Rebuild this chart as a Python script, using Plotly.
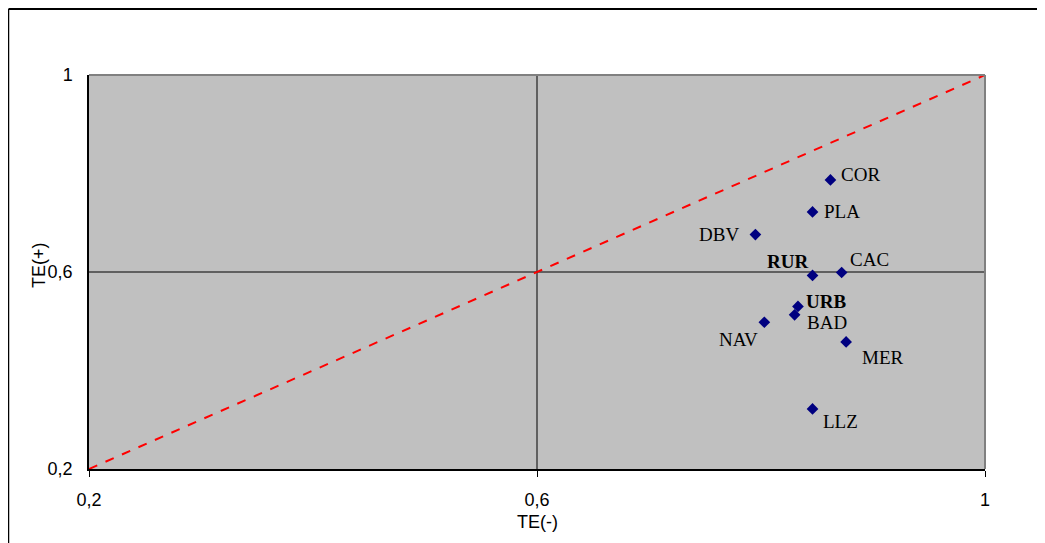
import plotly.graph_objects as go

# Data
names = ["COR", "PLA", "DBV", "RUR", "CAC", "URB", "BAD", "NAV", "MER", "LLZ"]
te_minus = [0.862, 0.846, 0.795, 0.846, 0.872, 0.833, 0.830, 0.803, 0.876, 0.846]
te_plus = [0.787, 0.722, 0.676, 0.593, 0.599, 0.530, 0.513, 0.498, 0.458, 0.322]
bold_names = ["RUR", "URB"]
tick_vals = [0.2, 0.6, 1.0]
tick_text = ["0,2", "0,6", "1"]
diag = [0.2, 1.0]

# label placement styles (anchor, xshift, yshift) in pixels
label_style = {
    "COR": ("left", 9, 5),
    "PLA": ("left", 9, 0),
    "DBV": ("right", -14, 0),
    "RUR": ("right", -3, 14),
    "CAC": ("left", 6, 13),
    "URB": ("left", 6, 5),
    "BAD": ("left", 10, -8),
    "NAV": ("right", -4, -17),
    "MER": ("left", 14, -16),
    "LLZ": ("left", 8, -13),
}

OFF = 8  # page body margin
W, H = 1045 - OFF, 543 - OFF
L, T = 89 - OFF, 75 - OFF
R = W - (985 - OFF)
B = H - (469 - OFF)
pw, ph = W - L - R, H - T - B


def px_x(p):
    return (p - OFF - L) / pw


def px_y(p):
    return (H - B - (p - OFF)) / ph


fig = go.Figure()

fig.add_trace(go.Scatter(
    x=diag, y=diag, mode="lines",
    line=dict(color="#FF0000", width=2, dash="dash"),
    hoverinfo="skip", showlegend=False,
))

fig.add_trace(go.Scatter(
    x=te_minus, y=te_plus, mode="markers",
    marker=dict(symbol="diamond", size=9, color="#000080"),
    text=names, showlegend=False,
))

annotations = []
for n, xv, yv in zip(names, te_minus, te_plus):
    anchor, xs, ys = label_style[n]
    txt = f"<b>{n}</b>" if n in bold_names else n
    annotations.append(dict(
        x=xv, y=yv, xref="x", yref="y", text=txt, showarrow=False,
        xanchor=anchor, yanchor="middle", xshift=xs, yshift=ys,
        font=dict(family="Liberation Serif", size=19, color="#000000"),
    ))

annotations.append(dict(
    x=px_x(537), y=px_y(522), xref="paper", yref="paper", text="TE(-)",
    showarrow=False, xanchor="center", yanchor="middle",
    font=dict(family="Liberation Sans", size=18, color="#000000"),
))
annotations.append(dict(
    x=px_x(39), y=px_y(265), xref="paper", yref="paper", text="TE(+)",
    showarrow=False, xanchor="center", yanchor="middle", textangle=-90,
    font=dict(family="Liberation Sans", size=18, color="#000000"),
))

shapes = [
    # grid lines at 0.6
    dict(type="line", xref="x", yref="y", x0=0.6, x1=0.6, y0=0.2, y1=1.0,
         line=dict(color="#000000", width=1), layer="below"),
    dict(type="line", xref="x", yref="y", x0=0.2, x1=1.0, y0=0.6, y1=0.6,
         line=dict(color="#000000", width=1), layer="below"),
    # plot-area top/right border
    dict(type="line", xref="paper", yref="paper", x0=0, x1=1, y0=1, y1=1,
         line=dict(color="#808080", width=2)),
    dict(type="line", xref="paper", yref="paper", x0=1, x1=1, y0=0, y1=1,
         line=dict(color="#808080", width=2)),
    # outer chart frame
    dict(type="line", xref="paper", yref="paper", x0=px_x(8.5), x1=px_x(1060),
         y0=px_y(9), y1=px_y(9), line=dict(color="#000000", width=2)),
    dict(type="line", xref="paper", yref="paper", x0=px_x(8.5), x1=px_x(8.5),
         y0=px_y(9), y1=px_y(560), line=dict(color="#000000", width=1.5)),
]

fig.update_layout(
    width=W, height=H,
    margin=dict(l=L, r=R, t=T, b=B, pad=0),
    paper_bgcolor="#FFFFFF", plot_bgcolor="#C0C0C0",
    showlegend=False,
    annotations=annotations, shapes=shapes,
    font=dict(family="Liberation Sans", size=18, color="#000000"),
    xaxis=dict(
        range=[0.2, 1.0], tickvals=tick_vals, ticktext=tick_text,
        showgrid=False, zeroline=False, showline=True, linecolor="#000000",
        linewidth=1.5, ticks="outside", ticklen=6, tickcolor="#000000",
        tickfont=dict(family="Liberation Sans", size=18),
        ticklabelstandoff=8,
    ),
    yaxis=dict(
        range=[0.2, 1.0], tickvals=tick_vals, ticktext=tick_text,
        showgrid=False, zeroline=False, showline=True, linecolor="#000000",
        linewidth=1.5, ticks="",
        tickfont=dict(family="Liberation Sans", size=18),
        ticklabelstandoff=11,
    ),
)

fig.write_html("out.html")
